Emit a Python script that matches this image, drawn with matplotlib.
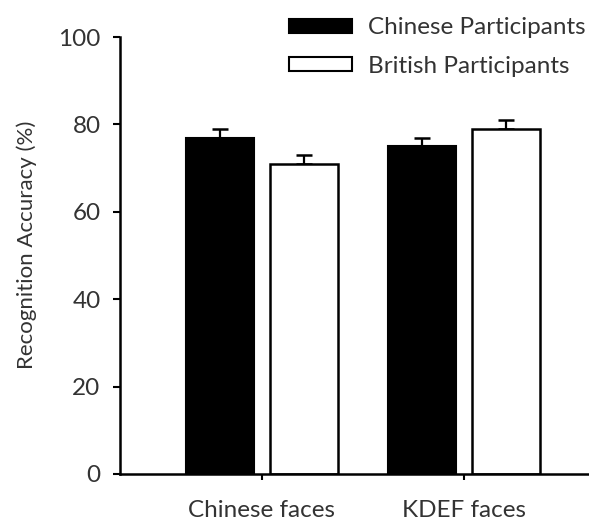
import matplotlib
matplotlib.use("Agg")
import matplotlib.pyplot as plt
import numpy as np
from matplotlib.patches import Patch

categories = ["Chinese faces", "KDEF faces"]
series_names = ["Chinese Participants", "British Participants"]
chinese_vals = [77, 75]
british_vals = [71, 79]
chinese_err = [2, 2]
british_err = [2, 1.9]
yticks = [0, 20, 40, 60, 80, 100]

plt.rcParams['font.family'] = ['Lato', 'DejaVu Sans']

fig = plt.figure(figsize=(5.89, 5.25), dpi=100)
ax = fig.add_axes([120/589, 1-474/525, 1-120/589, (474-37)/525])

x = np.arange(len(categories))
w = 0.337
off = 0.207
ax.bar(x - off, chinese_vals, w, color='black', edgecolor='black', linewidth=1.5, zorder=2)
ax.bar(x + off, british_vals, w, color='white', edgecolor='black', linewidth=1.8, zorder=2)
ax.errorbar(x - off, chinese_vals, yerr=[np.zeros(2), chinese_err], fmt='none',
            ecolor='black', elinewidth=1.6, capsize=6, capthick=1.8, zorder=1)
ax.errorbar(x + off, british_vals, yerr=[np.zeros(2), british_err], fmt='none',
            ecolor='black', elinewidth=1.6, capsize=6, capthick=1.8, zorder=1)

ax.set_xlim(-0.703, 1.62)
ax.set_ylim(0, 100)
ax.set_yticks(yticks)
ax.set_xticks(x)
ax.set_xticklabels(categories, fontsize=17.5, color='#333333')
ax.tick_params(axis='y', labelsize=17.5, labelcolor='#333333', length=5, width=1.5, direction='out', pad=9)
ax.tick_params(axis='x', length=4, width=1.5, direction='out', pad=15)
ax.set_ylabel("Recognition Accuracy (%)", fontsize=16, color='#333333')
ax.yaxis.set_label_coords(-0.176, 0.525)

for s in ['top', 'right']:
    ax.spines[s].set_visible(False)
for s in ['left', 'bottom']:
    ax.spines[s].set_linewidth(1.8)

handles = [Patch(facecolor='black', edgecolor='black', linewidth=1.5),
           Patch(facecolor='white', edgecolor='black', linewidth=1.5)]
fig.legend(handles, series_names, loc='upper left', bbox_to_anchor=(277/589, 0.99),
           frameon=False, fontsize=17.5, handlelength=2.6, handleheight=0.5,
           handletextpad=0.65, labelspacing=0.72, labelcolor='#333333', borderaxespad=0.1)

fig.savefig("out.png", dpi=100)
